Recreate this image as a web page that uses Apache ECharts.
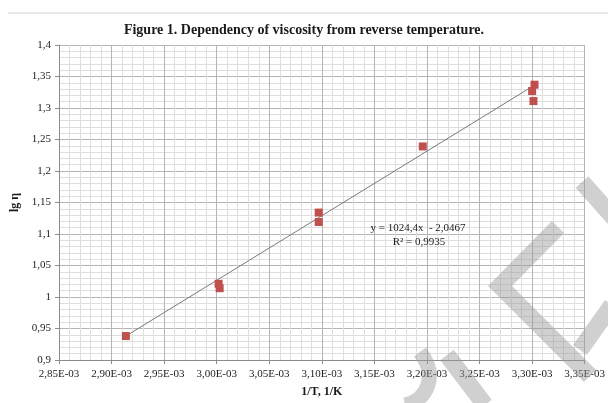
<!DOCTYPE html>
<html>
<head>
<meta charset="utf-8">
<script src="https://cdn.jsdelivr.net/npm/echarts@6/dist/echarts.min.js"></script>
<style>
html,body{margin:0;padding:0;background:#fff;}
#chart{width:608px;height:403px;}
</style>
</head>
<body>
<div id="chart"></div>
<script>
// Data
var invT = [0.0029136, 0.0030018, 0.0030028, 0.0030970, 0.0030970, 0.0031960, 0.0033023, 0.0033000, 0.0033013];
var lgEta = [0.938, 1.021, 1.014, 1.134, 1.119, 1.239, 1.337, 1.327, 1.311];
var trendX = [0.0029136, 0.0033000];
var trendY = [0.938, 1.334];
var equationText = ['y = 1024,4x  - 2,0467', 'R\u00b2 = 0,9935'];
var titleText = 'Figure 1. Dependency of viscosity from reverse temperature.';
var xName = '1/T, 1/K';
var yName = 'lg \u03b7';

var serif = 'Liberation Serif, Times New Roman, serif';
var scatterData = invT.map(function (x, i) { return [x, lgEta[i]]; });
var trendData = trendX.map(function (x, i) { return [x, trendY[i]]; });

var wm = 'rgba(150,150,150,0.45)';
function wmLine(pts) {
  return {type: 'polyline', z: 100, silent: true,
    shape: {points: pts},
    style: {stroke: wm, lineWidth: 17, fill: null, lineCap: 'butt', lineJoin: 'miter'}};
}

var chart = echarts.init(document.getElementById('chart'), null, {renderer: 'canvas'});
chart.setOption({
  animation: false,
  backgroundColor: '#fff',
  title: {
    text: titleText, left: 'center', top: 18,
    textStyle: {fontFamily: serif, fontWeight: 'bold', fontSize: 14, color: '#1a1a1a'}
  },
  grid: {left: 59, right: 22, top: 45, bottom: 41, containLabel: false},
  xAxis: {
    type: 'value', min: 0.00285, max: 0.00335, interval: 0.00005,
    name: xName, nameLocation: 'middle', nameGap: 26,
    nameTextStyle: {fontFamily: serif, fontWeight: 'bold', fontSize: 12, color: '#1a1a1a'},
    axisLine: {show: true, lineStyle: {color: '#8c8c8c', width: 1}},
    axisTick: {show: true, length: 4, lineStyle: {color: '#8c8c8c'}},
    minorTick: {show: false, splitNumber: 5},
    axisLabel: {
      fontFamily: serif, fontSize: 11, color: '#222', margin: 9,
      formatter: function (v) { return (Math.round(v * 1e5) / 100).toFixed(2).replace('.', ',') + 'E-03'; }
    },
    splitLine: {show: true, lineStyle: {color: '#b4b4b4', width: 1}},
    minorSplitLine: {show: true, lineStyle: {color: '#dedede', width: 1}}
  },
  yAxis: {
    type: 'value', min: 0.9, max: 1.4, interval: 0.05,
    name: yName, nameLocation: 'middle', nameGap: 32,
    nameTextStyle: {fontFamily: serif, fontWeight: 'bold', fontSize: 12, color: '#1a1a1a'},
    axisLine: {show: true, lineStyle: {color: '#8c8c8c', width: 1}},
    axisTick: {show: true, length: 4, lineStyle: {color: '#8c8c8c'}},
    minorTick: {show: false, splitNumber: 5},
    axisLabel: {
      fontFamily: serif, fontSize: 11, color: '#222', margin: 8,
      formatter: function (v) { return String(parseFloat(v.toFixed(2))).replace('.', ','); }
    },
    splitLine: {show: true, lineStyle: {color: '#b4b4b4', width: 1}},
    minorSplitLine: {show: true, lineStyle: {color: '#dedede', width: 1}}
  },
  series: [
    {
      type: 'line', data: trendData, symbol: 'none', silent: true,
      lineStyle: {color: '#7a7a7a', width: 1}, z: 3
    },
    {
      type: 'scatter', data: scatterData, symbol: 'rect', symbolSize: 8,
      itemStyle: {color: '#c0504d', opacity: 1}, z: 4
    }
  ],
  graphic: [
    {type: 'line', silent: true, shape: {x1: 8, y1: 13, x2: 608, y2: 13},
     style: {stroke: '#cfcfcf', lineWidth: 1}},
    {type: 'text', silent: true, z: 50, x: 418, y: 228,
     style: {text: equationText[0], fontFamily: serif, fontSize: 11, fill: '#222', align: 'center', verticalAlign: 'middle'}},
    {type: 'text', silent: true, z: 50, x: 419, y: 242,
     style: {text: equationText[1], fontFamily: serif, fontSize: 11, fill: '#222', align: 'center', verticalAlign: 'middle'}},
    wmLine([[558, 227], [500, 286], [590, 376]]),
    wmLine([[582, 182], [614, 218]]),
    wmLine([[612, 305], [580, 350]]),
    wmLine([[447, 355], [485, 405]]),
    {type: 'bezierCurve', z: 100, silent: true,
     shape: {x1: 420, y1: 352, cpx1: 438, cpy1: 375, x2: 405, y2: 405, cpx2: 428, cpy2: 400},
     style: {stroke: wm, lineWidth: 15, fill: null}}
  ]
});
</script>
</body>
</html>
